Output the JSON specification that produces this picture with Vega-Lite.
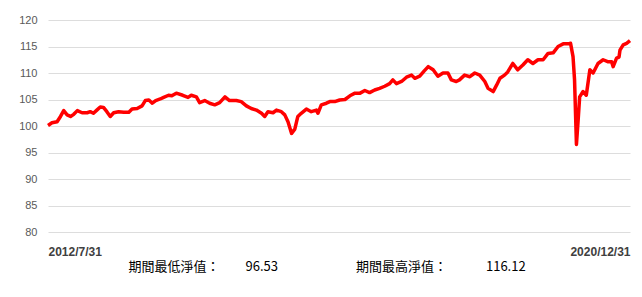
{
  "$schema": "https://vega.github.io/schema/vega-lite/v6.json",
  "autosize": "none",
  "width": 582,
  "height": 212,
  "padding": {"left": 48, "top": 20, "right": 12, "bottom": 65},
  "background": "#ffffff",
  "config": {
    "view": {"stroke": null},
    "font": "Liberation Sans"
  },
  "data": {
    "values": [
      {"date": "2012-07-31", "nav": 100.1},
      {"date": "2012-08-21", "nav": 100.6},
      {"date": "2012-09-17", "nav": 100.8},
      {"date": "2012-10-05", "nav": 101.8},
      {"date": "2012-10-22", "nav": 102.9},
      {"date": "2012-11-09", "nav": 102.1},
      {"date": "2012-11-27", "nav": 101.8},
      {"date": "2012-12-14", "nav": 102.2},
      {"date": "2013-01-02", "nav": 102.9},
      {"date": "2013-01-27", "nav": 102.5},
      {"date": "2013-02-23", "nav": 102.5},
      {"date": "2013-03-11", "nav": 102.7},
      {"date": "2013-03-28", "nav": 102.4},
      {"date": "2013-04-15", "nav": 103.0},
      {"date": "2013-05-03", "nav": 103.6},
      {"date": "2013-05-20", "nav": 103.5},
      {"date": "2013-06-07", "nav": 102.7},
      {"date": "2013-06-25", "nav": 101.8},
      {"date": "2013-07-13", "nav": 102.5},
      {"date": "2013-08-08", "nav": 102.7},
      {"date": "2013-09-04", "nav": 102.6},
      {"date": "2013-10-01", "nav": 102.6},
      {"date": "2013-10-18", "nav": 103.2},
      {"date": "2013-11-14", "nav": 103.3},
      {"date": "2013-12-10", "nav": 103.8},
      {"date": "2013-12-27", "nav": 104.8},
      {"date": "2014-01-15", "nav": 104.9},
      {"date": "2014-02-02", "nav": 104.3},
      {"date": "2014-02-20", "nav": 104.8},
      {"date": "2014-03-16", "nav": 105.1},
      {"date": "2014-04-03", "nav": 105.4},
      {"date": "2014-04-29", "nav": 105.8},
      {"date": "2014-05-16", "nav": 105.7},
      {"date": "2014-06-09", "nav": 106.2},
      {"date": "2014-07-13", "nav": 105.8},
      {"date": "2014-08-10", "nav": 105.4},
      {"date": "2014-08-27", "nav": 105.8},
      {"date": "2014-09-23", "nav": 105.5},
      {"date": "2014-10-10", "nav": 104.4},
      {"date": "2014-11-06", "nav": 104.8},
      {"date": "2014-12-02", "nav": 104.3},
      {"date": "2014-12-29", "nav": 104.0},
      {"date": "2015-01-24", "nav": 104.4},
      {"date": "2015-02-21", "nav": 105.5},
      {"date": "2015-03-17", "nav": 104.8},
      {"date": "2015-04-22", "nav": 104.8},
      {"date": "2015-05-18", "nav": 104.6},
      {"date": "2015-06-14", "nav": 103.8},
      {"date": "2015-07-10", "nav": 103.3},
      {"date": "2015-08-06", "nav": 103.0},
      {"date": "2015-09-02", "nav": 102.4},
      {"date": "2015-09-19", "nav": 101.8},
      {"date": "2015-10-06", "nav": 102.7},
      {"date": "2015-11-02", "nav": 102.5},
      {"date": "2015-11-20", "nav": 103.0},
      {"date": "2015-12-16", "nav": 102.7},
      {"date": "2016-01-03", "nav": 102.1},
      {"date": "2016-01-20", "nav": 100.8},
      {"date": "2016-02-08", "nav": 98.6},
      {"date": "2016-02-25", "nav": 99.4},
      {"date": "2016-03-12", "nav": 101.8},
      {"date": "2016-03-30", "nav": 102.4},
      {"date": "2016-04-26", "nav": 103.2},
      {"date": "2016-05-22", "nav": 102.7},
      {"date": "2016-06-18", "nav": 103.0},
      {"date": "2016-06-26", "nav": 102.4},
      {"date": "2016-07-14", "nav": 104.0},
      {"date": "2016-08-10", "nav": 104.3},
      {"date": "2016-08-28", "nav": 104.6},
      {"date": "2016-09-23", "nav": 104.6},
      {"date": "2016-10-19", "nav": 104.9},
      {"date": "2016-11-16", "nav": 105.0},
      {"date": "2016-12-12", "nav": 105.7},
      {"date": "2017-01-08", "nav": 106.2},
      {"date": "2017-02-04", "nav": 106.2},
      {"date": "2017-03-01", "nav": 106.7},
      {"date": "2017-03-26", "nav": 106.3},
      {"date": "2017-04-22", "nav": 106.8},
      {"date": "2017-05-18", "nav": 107.1},
      {"date": "2017-06-14", "nav": 107.5},
      {"date": "2017-07-10", "nav": 108.0},
      {"date": "2017-07-27", "nav": 108.7},
      {"date": "2017-08-15", "nav": 108.0},
      {"date": "2017-09-11", "nav": 108.4},
      {"date": "2017-10-07", "nav": 109.2},
      {"date": "2017-11-03", "nav": 109.6},
      {"date": "2017-11-20", "nav": 109.0},
      {"date": "2017-12-16", "nav": 109.4},
      {"date": "2018-01-09", "nav": 110.4},
      {"date": "2018-01-30", "nav": 111.2},
      {"date": "2018-02-25", "nav": 110.6},
      {"date": "2018-03-22", "nav": 109.4},
      {"date": "2018-04-18", "nav": 110.0},
      {"date": "2018-05-14", "nav": 110.0},
      {"date": "2018-06-01", "nav": 108.7},
      {"date": "2018-06-27", "nav": 108.4},
      {"date": "2018-07-14", "nav": 108.7},
      {"date": "2018-08-10", "nav": 109.6},
      {"date": "2018-09-07", "nav": 109.3},
      {"date": "2018-10-03", "nav": 110.0},
      {"date": "2018-10-29", "nav": 109.6},
      {"date": "2018-11-25", "nav": 108.4},
      {"date": "2018-12-12", "nav": 107.1},
      {"date": "2019-01-08", "nav": 106.5},
      {"date": "2019-01-26", "nav": 107.7},
      {"date": "2019-02-13", "nav": 109.0},
      {"date": "2019-03-09", "nav": 109.6},
      {"date": "2019-03-26", "nav": 110.2},
      {"date": "2019-04-22", "nav": 111.8},
      {"date": "2019-05-18", "nav": 110.6},
      {"date": "2019-06-14", "nav": 111.5},
      {"date": "2019-07-10", "nav": 112.5},
      {"date": "2019-08-06", "nav": 111.8},
      {"date": "2019-09-02", "nav": 112.5},
      {"date": "2019-09-29", "nav": 112.5},
      {"date": "2019-10-25", "nav": 113.7},
      {"date": "2019-11-21", "nav": 113.8},
      {"date": "2019-12-17", "nav": 115.0},
      {"date": "2020-01-13", "nav": 115.5},
      {"date": "2020-02-08", "nav": 115.5},
      {"date": "2020-02-21", "nav": 115.6},
      {"date": "2020-03-05", "nav": 113.1},
      {"date": "2020-03-13", "nav": 108.7},
      {"date": "2020-03-23", "nav": 96.53},
      {"date": "2020-04-01", "nav": 101.1},
      {"date": "2020-04-09", "nav": 105.5},
      {"date": "2020-04-27", "nav": 106.5},
      {"date": "2020-05-14", "nav": 105.8},
      {"date": "2020-06-02", "nav": 110.6},
      {"date": "2020-06-19", "nav": 110.0},
      {"date": "2020-07-15", "nav": 111.8},
      {"date": "2020-08-11", "nav": 112.5},
      {"date": "2020-09-07", "nav": 112.1},
      {"date": "2020-09-25", "nav": 112.1},
      {"date": "2020-10-03", "nav": 111.2},
      {"date": "2020-10-21", "nav": 112.8},
      {"date": "2020-11-03", "nav": 113.0},
      {"date": "2020-11-08", "nav": 114.3},
      {"date": "2020-11-25", "nav": 115.3},
      {"date": "2020-12-13", "nav": 115.6},
      {"date": "2020-12-31", "nav": 116.12}
    ]
  },
  "mark": {"type": "line", "color": "#ff0000", "strokeWidth": 3.5, "strokeJoin": "round", "clip": false},
  "encoding": {
    "x": {
      "field": "date",
      "type": "temporal",
      "scale": {"type": "utc", "domain": [{"year": 2012, "month": 7, "date": 31, "utc": true}, {"year": 2020, "month": 12, "date": 31, "utc": true}]},
      "axis": {
        "values": [{"year": 2012, "month": 7, "date": 31, "utc": true}, {"year": 2020, "month": 12, "date": 31, "utc": true}],
        "labelExpr": "utcFormat(datum.value, '%Y/%-m/%-d')",
        "labelFlush": true,
        "labelFont": "Liberation Sans",
        "labelFontSize": 12,
        "labelFontWeight": "bold",
        "labelColor": "#404040",
        "labelPadding": 14,
        "domain": false,
        "ticks": false,
        "grid": false,
        "title": "期間最低淨值：\u3000\u300096.53\u3000\u3000\u3000\u3000\u3000\u3000期間最高淨值：\u3000\u3000\u3000116.12",
        "titleFont": "Noto Sans CJK TC",
        "titleFontSize": 13,
        "titleFontWeight": "normal",
        "titleColor": "#000000",
        "titleAnchor": "start",
        "titleAlign": "left",
        "titleX": 80,
        "titlePadding": 3
      }
    },
    "y": {
      "field": "nav",
      "type": "quantitative",
      "scale": {"domain": [80, 120], "nice": false, "zero": false},
      "axis": {
        "values": [80, 85, 90, 95, 100, 105, 110, 115, 120],
        "labelFont": "Liberation Sans",
        "labelFontSize": 11,
        "labelColor": "#595959",
        "labelPadding": 11,
        "domain": false,
        "ticks": false,
        "gridColor": "#dddddd",
        "gridWidth": 1.2,
        "title": null
      }
    }
  }
}
